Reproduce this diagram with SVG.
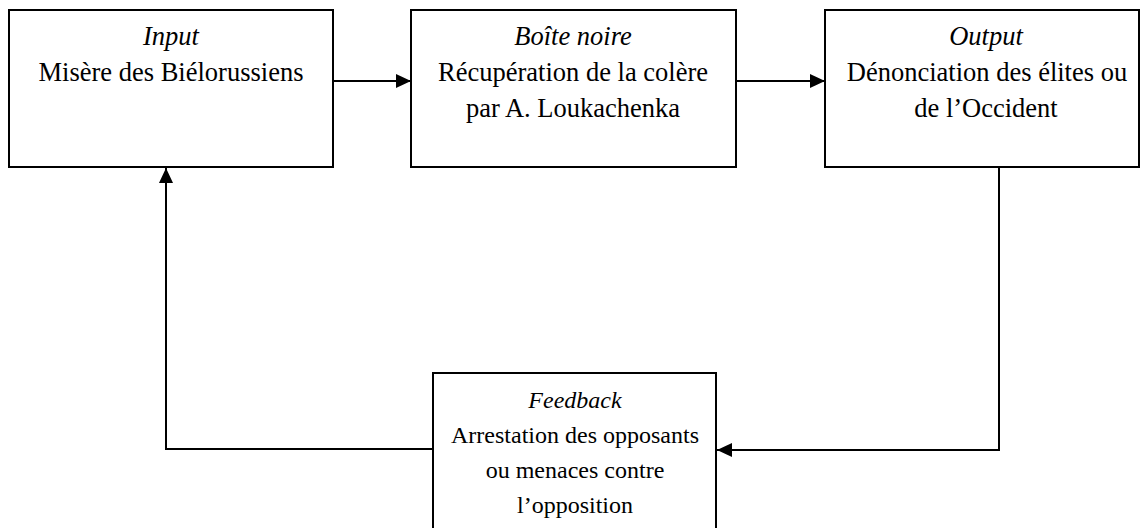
<svg xmlns="http://www.w3.org/2000/svg" width="1140" height="528" viewBox="0 0 1140 528">
<style>
.box{fill:#fff;stroke:#000;stroke-width:2}
.t{font-family:"Liberation Serif","Times New Roman","DejaVu Serif",serif;font-size:26.5px;fill:#000;text-anchor:middle}
.f{font-size:24px}
.i{font-style:italic}
.c{fill:none;stroke:#000;stroke-width:2}
</style>
<defs>
<marker id="ah" viewBox="0 0 15 14" refX="15" refY="7" markerWidth="15" markerHeight="14" markerUnits="userSpaceOnUse" orient="auto">
<path d="M0,0 L15,7 L0,14 Z" fill="#000"/>
</marker>
</defs>
<rect width="1140" height="528" fill="#fff"/>
<g id="connectors">
<line class="c" x1="333" y1="81" x2="411" y2="81" marker-end="url(#ah)"/>
<line class="c" x1="736" y1="81" x2="825" y2="81" marker-end="url(#ah)"/>
<polyline class="c" points="999,168 999,450 717,450" marker-end="url(#ah)"/>
<polyline class="c" points="433,449 166,449 166,168" marker-end="url(#ah)"/>
</g>
<g id="input">
<rect class="box" x="9" y="10" width="324" height="157"/>
<text class="t i" x="171" y="45">Input</text>
<text class="t" x="171" y="81">Misère des Biélorussiens</text>
</g>
<g id="boite-noire">
<rect class="box" x="411" y="10" width="325" height="157"/>
<text class="t i" x="573" y="45">Boîte noire</text>
<text class="t" x="573" y="81">Récupération de la colère</text>
<text class="t" x="573" y="117">par A. Loukachenka</text>
</g>
<g id="output">
<rect class="box" x="825" y="10" width="314" height="157"/>
<text class="t i" x="986" y="45">Output</text>
<text class="t" x="987" y="81">Dénonciation des élites ou</text>
<text class="t" x="986" y="117">de l’Occident</text>
</g>
<g id="feedback">
<rect class="box" x="433" y="373" width="283" height="170"/>
<text class="t f i" x="575" y="408">Feedback</text>
<text class="t f" x="575" y="443">Arrestation des opposants</text>
<text class="t f" x="575" y="478">ou menaces contre</text>
<text class="t f" x="575" y="513">l’opposition</text>
</g>
</svg>
